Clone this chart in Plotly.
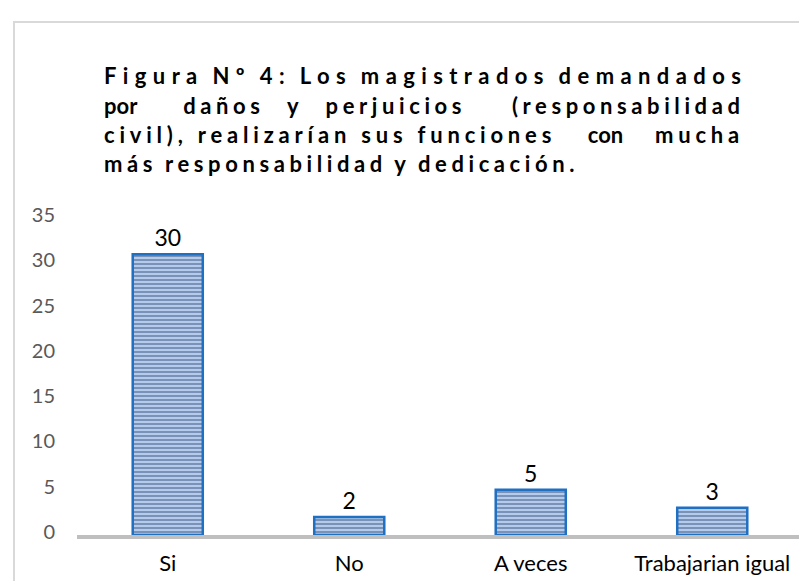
import plotly.graph_objects as go

# ---- data ----
categories = ["Si", "No", "A veces", "Trabajarian igual"]
values = [31, 2, 5, 3]
value_labels = ["30", "2", "5", "3"]
y_ticks = [0, 5, 10, 15, 20, 25, 30, 35]
title_lines = [
    [("Figura Nº 4: Los magistrados demandados", 6.4, -3)],
    [("por", 0, 0), ("  daños y perjuicios  (responsabilidad", 4.6, 13)],
    [("civil), realizarían sus funciones", 4.8, 0), ("  con  ", 0, 10.5), ("mucha", 4.8, 0)],
    [("más responsabilidad y dedicación.", 4.6, -2)],
]

W, H = 807, 581
# plot area in pixels: x 69..795, y 210..527
PL, PR, PT, PB = 69, 795, 210, 527
ML, MR, MT, MB = PL, W - PR, PT, H - PB
PW, PH = PR - PL, PB - PT
FONT = "Lato, 'Open Sans', sans-serif"


def px_x(px):
    return (px - PL) / PW


def px_y(py):
    return (PB - py) / PH


fig = go.Figure(
    go.Bar(
        x=categories,
        y=values,
        text=value_labels,
        textposition="outside",
        textfont=dict(family=FONT, size=23, color="#000000"),
        cliponaxis=False,
        marker=dict(
            color="#b5cbeb",
            line=dict(color="#1f6fc2", width=2.5),
            pattern=dict(shape="-", fgcolor="#3f5a86", bgcolor="#b5cbeb",
                         size=4, solidity=0.5),
        ),
        hoverinfo="skip",
    )
)

annotations = []
centers = [68, 97, 126, 155]
for parts, cy in zip(title_lines, centers):
    txt = "".join(
        f'<span style="letter-spacing:{ls}px;word-spacing:{ws}px">{t}</span>'
        for t, ls, ws in parts
    )
    annotations.append(dict(
        text=f"<b>{txt}</b>", x=px_x(95), y=px_y(cy), xref="paper", yref="paper",
        xanchor="left", yanchor="middle", showarrow=False, borderpad=0,
        font=dict(family=FONT, size=22, color="#000000"),
    ))

fig.update_layout(
    width=W, height=H,
    margin=dict(l=ML, r=MR, t=MT, b=MB, pad=0, autoexpand=False),
    paper_bgcolor="white", plot_bgcolor="white",
    bargap=0.614,
    showlegend=False,
    annotations=annotations,
    shapes=[dict(type="rect", xref="paper", yref="paper",
                 x0=px_x(6), x1=px_x(900), y0=px_y(14), y1=px_y(700),
                 line=dict(color="#d9d9d9", width=2), fillcolor="rgba(0,0,0,0)",
                 layer="below")],
    xaxis=dict(
        showline=True, linecolor="#bfbfbf", linewidth=4,
        ticks="", showgrid=False, zeroline=False, automargin=False,
        tickfont=dict(family=FONT, size=22, color="#000000"),
        ticklabelstandoff=6,
    ),
    yaxis=dict(
        range=[0, 35], tickvals=y_ticks, showline=False, showgrid=False,
        zeroline=False, ticks="", automargin=False,
        tickfont=dict(family=FONT, size=20, color="#595959"),
        ticklabelstandoff=21, ticklabelshift=-3,
    ),
)

fig.write_html("out.html")
